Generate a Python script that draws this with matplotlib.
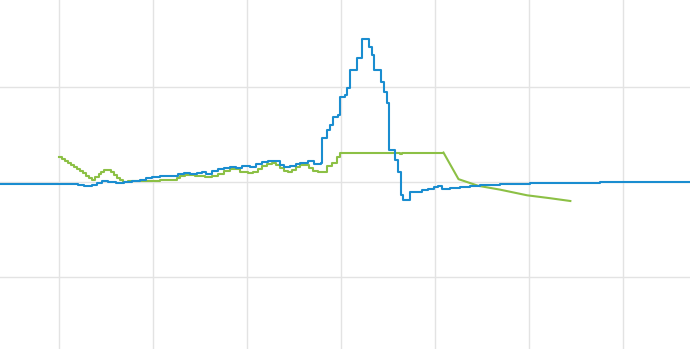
import matplotlib
matplotlib.use('Agg')
import matplotlib.pyplot as plt

# blue series (step values)
blue_x = [-6.3, 1.2, 2.0, 2.7, 3.5, 4.0, 4.6, 5.2, 6.1, 6.9, 7.8, 8.6, 9.2, 9.9,
          10.7, 12.0, 12.7, 13.3, 13.9, 14.7, 15.2, 15.6, 16.3, 16.9, 17.6, 18.2,
          18.8, 19.5, 20.3, 21.0, 21.6, 22.2, 23.1, 23.5, 23.9, 24.6, 25.2, 25.6,
          26.1, 26.5, 27.1, 27.9, 28.0, 28.5, 28.8, 29.2, 29.7, 29.9, 30.4, 30.6,
          31.0, 31.7, 32.2, 33.0, 33.3, 33.5, 34.3, 34.6, 34.9, 35.1, 35.7, 36.1,
          36.4, 36.6, 37.3, 38.0, 38.6, 39.3, 39.9, 40.3, 40.7, 41.6, 42.7, 43.7,
          44.8, 46.9, 50.1, 57.6, 67.2]
blue_y = [-0.2, -0.2, -0.3, -0.4, -0.3, -0.1, 0.1, 0.0, -0.1, 0.0, 0.1, 0.2, 0.4, 0.5,
          0.6, 0.6, 0.8, 0.9, 0.8, 0.9, 1.1, 0.8, 1.2, 1.4, 1.5, 1.6,
          1.5, 1.7, 1.6, 1.9, 2.1, 2.2, 2.2, 1.8, 1.6, 1.7, 1.9, 2.0,
          2.0, 2.2, 1.9, 2.0, 4.6, 5.5, 6.0, 6.8, 7.1, 9.0, 9.2, 9.9,
          11.8, 13.1, 15.1, 14.2, 13.4, 11.8, 10.5, 9.5, 8.3, 3.4, 2.3, 1.1,
          -1.4, -1.9, -1.1, -1.0, -0.8, -0.7, -0.5, -0.4, -0.7, -0.6, -0.5, -0.4,
          -0.3, -0.2, -0.1, 0.0, 0.0]

# green series, stepped part
green_x = [0.0, 0.3, 0.6, 1.0, 1.3, 1.6, 1.9, 2.2, 2.6, 2.9, 3.2, 3.5, 3.8, 4.2,
           4.5, 4.8, 5.2, 5.5, 5.9, 6.2, 6.5, 6.8, 7.3, 8.6, 9.7, 10.7, 12.1,
           12.5, 12.9, 13.4, 14.5, 15.5, 16.3, 16.9, 17.6, 18.2, 18.7, 19.3,
           20.1, 20.6, 21.2, 21.6, 22.1, 22.7, 23.1, 23.5, 23.9, 24.4, 24.8,
           25.2, 25.6, 26.2, 26.6, 27.0, 27.6, 28.3, 28.5, 29.0, 29.6, 29.9,
           36.3, 36.5, 36.7, 40.9]
green_y = [2.6, 2.4, 2.2, 2.0, 1.8, 1.6, 1.4, 1.2, 1.0, 0.6, 0.4, 0.2, 0.5, 0.8,
           1.1, 1.3, 1.3, 1.1, 0.7, 0.4, 0.2, 0.0, 0.1, 0.1, 0.1, 0.2, 0.2,
           0.4, 0.6, 0.7, 0.6, 0.5, 0.6, 0.8, 1.2, 1.4, 1.4, 1.1,
           0.9, 1.1, 1.4, 1.7, 1.9, 2.0, 1.8, 1.5, 1.2, 1.1, 1.3,
           1.6, 1.8, 1.8, 1.5, 1.2, 1.1, 1.1, 1.7, 2.0, 2.6, 3.1,
           3.0, 3.1, 3.1, 3.1]
# green series, sloping tail
green_tail_x = [40.9, 42.5, 44.6, 46.9, 49.8, 52.2, 54.4]
green_tail_y = [3.1, 0.3, -0.4, -0.8, -1.4, -1.7, -2.0]

blue = '#1a8dd0'
green = '#8cc045'

fig = plt.figure(figsize=(6.9, 3.49), dpi=100)
ax = fig.add_axes([0, 0, 1, 1])

ax.plot(blue_x, blue_y, color=blue, lw=1.5, drawstyle='steps-post', zorder=3)
ax.plot(green_x, green_y, color=green, lw=1.5, drawstyle='steps-post', zorder=2)
ax.plot(green_tail_x, green_tail_y, color=green, lw=1.5, zorder=2)

ax.set_xlim(-6.28, 67.13)
ax.set_ylim(-17.58, 19.16)
ax.set_xticks(range(0, 61, 10))
ax.set_yticks([-10, 0, 10])
ax.grid(True, color='#e3e3e3', lw=1)
ax.tick_params(length=0, labelbottom=False, labelleft=False)
for s in ax.spines.values():
    s.set_visible(False)
ax.set_axisbelow(True)

fig.savefig('out.png', dpi=100)
